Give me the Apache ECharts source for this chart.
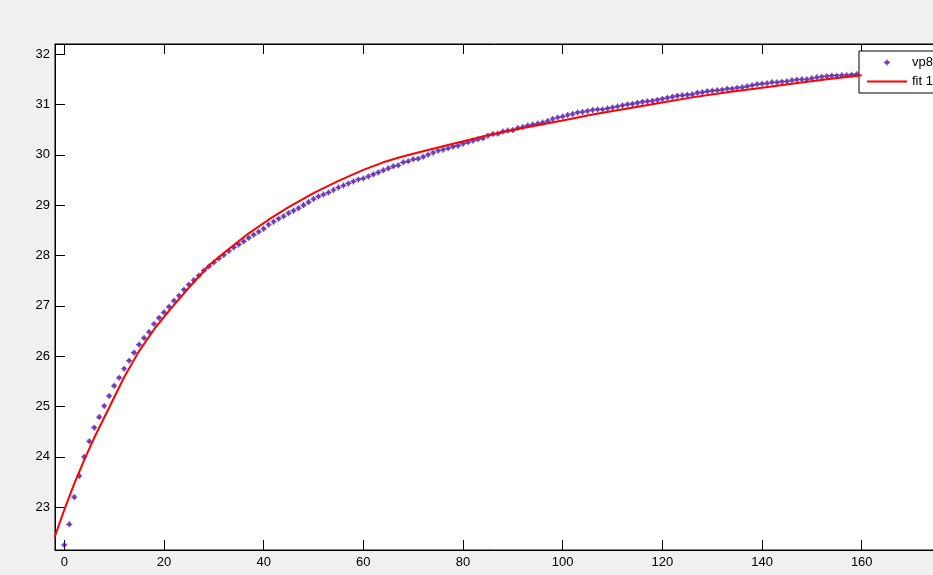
<!DOCTYPE html>
<html>
<head>
<meta charset="utf-8">
<script src="https://cdn.jsdelivr.net/npm/echarts@6/dist/echarts.min.js"></script>
<style>
html,body{margin:0;padding:0;background:#f0f0f0;}
#chart{width:933px;height:575px;}
</style>
</head>
<body>
<div id="chart"></div>
<script>
// ---- data ----
var pointX = [];
for (var i = 0; i < 160; i++) pointX.push(i);
var pointY = [
  22.25, 22.66, 23.20, 23.62, 24.00, 24.31, 24.58, 24.79, 25.01, 25.21,
  25.41, 25.57, 25.75, 25.91, 26.07, 26.23, 26.36, 26.48, 26.64, 26.76,
  26.87, 26.98, 27.10, 27.20, 27.32, 27.42, 27.51, 27.60, 27.70, 27.78,
  27.86, 27.94, 28.01, 28.09, 28.16, 28.22, 28.28, 28.35, 28.41, 28.47,
  28.53, 28.61, 28.67, 28.73, 28.78, 28.84, 28.89, 28.94, 29.00, 29.06,
  29.12, 29.17, 29.21, 29.25, 29.30, 29.35, 29.39, 29.43, 29.47, 29.51,
  29.53, 29.57, 29.61, 29.65, 29.69, 29.73, 29.77, 29.79, 29.85, 29.87,
  29.91, 29.92, 29.96, 30.00, 30.04, 30.08, 30.10, 30.13, 30.16, 30.18,
  30.22, 30.25, 30.28, 30.31, 30.33, 30.38, 30.41, 30.42, 30.46, 30.48,
  30.49, 30.53, 30.55, 30.58, 30.60, 30.62, 30.64, 30.67, 30.71, 30.74,
  30.76, 30.79, 30.81, 30.84, 30.85, 30.87, 30.89, 30.90, 30.90, 30.92,
  30.94, 30.96, 30.98, 31.00, 31.01, 31.03, 31.05, 31.06, 31.07, 31.09,
  31.11, 31.13, 31.15, 31.17, 31.18, 31.19, 31.20, 31.23, 31.24, 31.26,
  31.27, 31.28, 31.29, 31.31, 31.31, 31.33, 31.34, 31.36, 31.38, 31.40,
  31.41, 31.42, 31.44, 31.44, 31.45, 31.46, 31.48, 31.49, 31.50, 31.50,
  31.52, 31.54, 31.55, 31.56, 31.57, 31.57, 31.58, 31.58, 31.59, 31.60
];
var fitX = [-2, 0, 2, 4, 6, 9, 12, 15, 18, 21, 25, 29, 33, 37, 41, 45, 50, 55, 60, 64,
            67, 70, 74, 78, 85, 92, 100, 106, 113, 120, 126, 133, 140, 146, 153, 160];
var fitY = [22.39, 22.95, 23.47, 23.94, 24.38, 24.98, 25.58, 26.10, 26.53, 26.90,
            27.36, 27.80, 28.13, 28.44, 28.71, 28.96, 29.24, 29.48, 29.70, 29.85,
            29.94, 30.02, 30.12, 30.22, 30.39, 30.53, 30.68, 30.80, 30.92, 31.04,
            31.14, 31.24, 31.33, 31.41, 31.50, 31.58];
var xTicks = [0, 20, 40, 60, 80, 100, 120, 140, 160, 180];
var yTicks = [23, 24, 25, 26, 27, 28, 29, 30, 31, 32];
var seriesNames = ['vp8_psnr', 'fit 1'];

// ---- build ----
var pts = pointX.map(function (x, k) { return [x, pointY[k]]; });
var fit = fitX.map(function (x, k) { return [x, fitY[k]]; });
var plusPath = 'path://M2,0H3V1H4V2H5V3H4V4H3V5H2V4H1V3H0V2H1V1H2Z';
var linePath = 'path://M0,0H80V4H0Z';
var font = 'Liberation Sans, Arial, sans-serif';

var chart = echarts.init(document.getElementById('chart'), null, {renderer: 'canvas'});
var xBase = {
  type: 'value', min: -1.87, max: 180,
  axisLine: {show: true, onZero: false, lineStyle: {color: '#000', width: 1}},
  axisTick: {show: true, inside: true, length: 10, lineStyle: {color: '#000'}, customValues: xTicks},
  splitLine: {show: false}
};
var yBase = {
  type: 'value', min: 22.15, max: 32.2,
  axisLine: {show: true, onZero: false, lineStyle: {color: '#000', width: 1}},
  axisTick: {show: true, inside: true, length: 10, lineStyle: {color: '#000'}, customValues: yTicks},
  splitLine: {show: false}
};
chart.setOption({
  backgroundColor: '#f0f0f0',
  animation: false,
  grid: {left: 55, top: 44, bottom: 25, right: -28.4, outerBoundsMode: 'none', containLabel: false,
         show: true, backgroundColor: '#fff', borderColor: '#000', borderWidth: 1},
  xAxis: [
    Object.assign({}, xBase, {position: 'bottom',
      axisLabel: {show: true, customValues: xTicks, color: '#000', fontSize: 13, fontFamily: font, margin: 6}}),
    Object.assign({}, xBase, {position: 'top', axisLabel: {show: false}})
  ],
  yAxis: [
    Object.assign({}, yBase, {position: 'left',
      axisLabel: {show: true, customValues: yTicks, color: '#000', fontSize: 13, fontFamily: font, margin: 5}})
  ],
  legend: {
    orient: 'vertical', left: 859, top: 51,
    backgroundColor: '#fff', borderColor: '#000', borderWidth: 1, borderRadius: 0,
    padding: [4, 30, 4, 8], itemWidth: 40, itemHeight: 6, itemGap: 4,
    textStyle: {color: '#000', fontSize: 13, fontFamily: font, lineHeight: 15},
    data: [{name: seriesNames[0], icon: plusPath}, {name: seriesNames[1], icon: linePath}]
  },
  series: [
    {name: seriesNames[0], type: 'scatter', data: pts, symbol: plusPath, symbolSize: 6,
     itemStyle: {color: '#4a0ca2'}, z: 3},
    {name: seriesNames[1], type: 'line', data: fit, symbol: 'none', showSymbol: false, smooth: false,
     lineStyle: {color: '#ff0000', width: 2}, itemStyle: {color: '#ff0000'}, z: 4}
  ]
});
</script>
</body>
</html>
